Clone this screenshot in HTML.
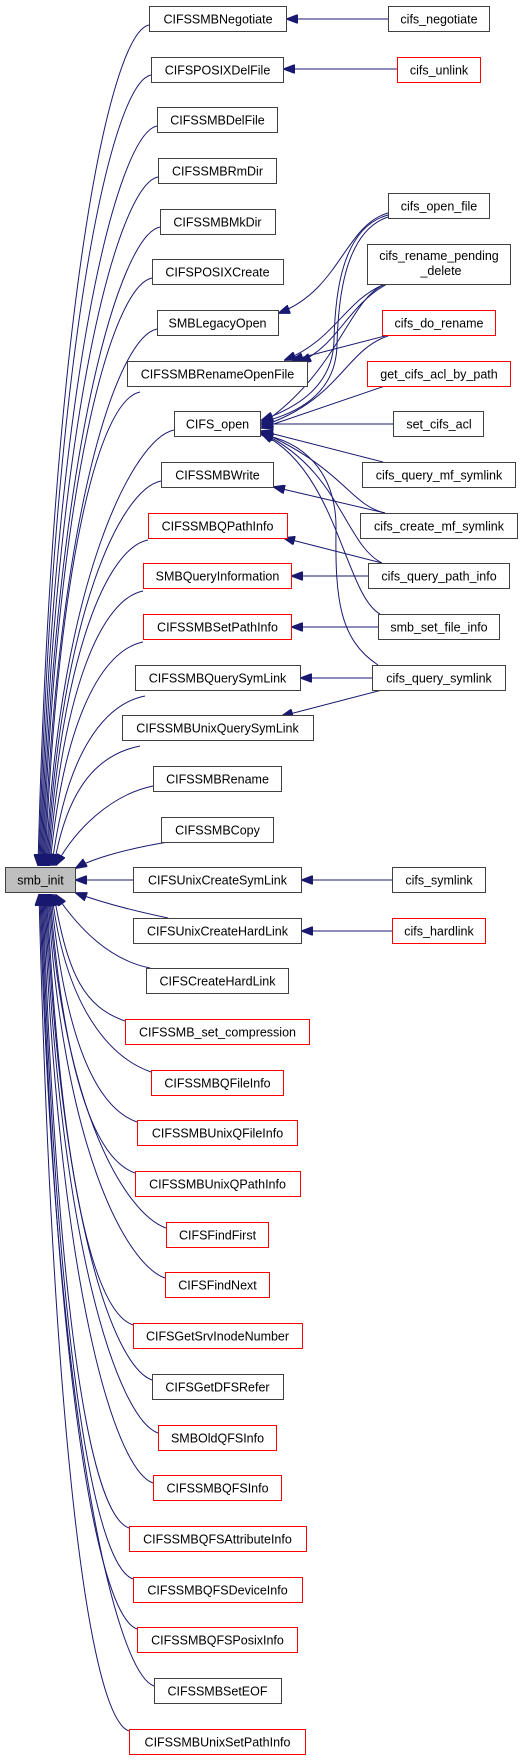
<!DOCTYPE html>
<html><head><meta charset="utf-8"><style>
html,body{margin:0;padding:0;background:#fff;}
svg{display:block;}
text{font-family:"Liberation Sans",sans-serif;font-size:12.5px;fill:#000;}
</style></head><body>
<svg id="g" width="532" height="1760" viewBox="0 0 532 1760" xmlns="http://www.w3.org/2000/svg">
<defs>
<marker id="a" markerWidth="12" markerHeight="9" refX="11" refY="4.5" orient="auto" markerUnits="userSpaceOnUse">
<path d="M0,0 L12,4.5 L0,9 z" fill="#191970" stroke="#191970"/>
</marker>
</defs>
<g id="edges" fill="none" stroke="#191970" stroke-width="1"></g>
<g id="nodes" stroke-width="1">
<rect x="5.5" y="867.5" width="70" height="25" fill="#bfbfbf" stroke="#404040"/><text x="40.5" y="884.5" text-anchor="middle">smb_init</text>

<rect x="149.5" y="6.5" width="137" height="25" fill="#fff" stroke="#404040"/><text x="218" y="23.5" text-anchor="middle">CIFSSMBNegotiate</text>
<rect x="151.5" y="57.5" width="132" height="25" fill="#fff" stroke="#404040"/><text x="217.5" y="74.5" text-anchor="middle">CIFSPOSIXDelFile</text>
<rect x="157.5" y="107.5" width="120" height="25" fill="#fff" stroke="#404040"/><text x="217.5" y="124.5" text-anchor="middle">CIFSSMBDelFile</text>
<rect x="158.5" y="158.5" width="118" height="25" fill="#fff" stroke="#404040"/><text x="217.5" y="175.5" text-anchor="middle">CIFSSMBRmDir</text>
<rect x="160.5" y="209.5" width="115" height="25" fill="#fff" stroke="#404040"/><text x="217.5" y="226.5" text-anchor="middle">CIFSSMBMkDir</text>
<rect x="152.5" y="259.5" width="131" height="25" fill="#fff" stroke="#404040"/><text x="217.5" y="276.5" text-anchor="middle">CIFSPOSIXCreate</text>
<rect x="157.5" y="310.5" width="121" height="25" fill="#fff" stroke="#404040"/><text x="217.5" y="327.5" text-anchor="middle">SMBLegacyOpen</text>
<rect x="127.5" y="361.5" width="180" height="25" fill="#fff" stroke="#404040"/><text x="217.5" y="378.5" text-anchor="middle">CIFSSMBRenameOpenFile</text>
<rect x="174.5" y="411.5" width="86" height="25" fill="#fff" stroke="#404040"/><text x="217.5" y="428.5" text-anchor="middle">CIFS_open</text>
<rect x="161.5" y="462.5" width="112" height="25" fill="#fff" stroke="#404040"/><text x="217.5" y="479.5" text-anchor="middle">CIFSSMBWrite</text>
<rect x="148.5" y="513.5" width="139" height="25" fill="#fff" stroke="#ff0000"/><text x="217.5" y="530.5" text-anchor="middle">CIFSSMBQPathInfo</text>
<rect x="143.5" y="563.5" width="148" height="25" fill="#fff" stroke="#ff0000"/><text x="217.5" y="580.5" text-anchor="middle">SMBQueryInformation</text>
<rect x="143.5" y="614.5" width="148" height="25" fill="#fff" stroke="#ff0000"/><text x="217.5" y="631.5" text-anchor="middle">CIFSSMBSetPathInfo</text>
<rect x="135.5" y="665.5" width="165" height="25" fill="#fff" stroke="#404040"/><text x="217.5" y="682.5" text-anchor="middle">CIFSSMBQuerySymLink</text>
<rect x="122.5" y="715.5" width="191" height="25" fill="#fff" stroke="#404040"/><text x="217.5" y="732.5" text-anchor="middle">CIFSSMBUnixQuerySymLink</text>
<rect x="153.5" y="766.5" width="128" height="25" fill="#fff" stroke="#404040"/><text x="217.5" y="783.5" text-anchor="middle">CIFSSMBRename</text>
<rect x="161.5" y="817.5" width="112" height="25" fill="#fff" stroke="#404040"/><text x="217.5" y="834.5" text-anchor="middle">CIFSSMBCopy</text>
<rect x="133.5" y="867.5" width="168" height="25" fill="#fff" stroke="#404040"/><text x="217.5" y="884.5" text-anchor="middle">CIFSUnixCreateSymLink</text>
<rect x="133.5" y="918.5" width="168" height="25" fill="#fff" stroke="#404040"/><text x="217.5" y="935.5" text-anchor="middle">CIFSUnixCreateHardLink</text>
<rect x="146.5" y="968.5" width="142" height="25" fill="#fff" stroke="#404040"/><text x="217.5" y="985.5" text-anchor="middle">CIFSCreateHardLink</text>
<rect x="125.5" y="1019.5" width="184" height="25" fill="#fff" stroke="#ff0000"/><text x="217.5" y="1036.5" text-anchor="middle">CIFSSMB_set_compression</text>
<rect x="151.5" y="1070.5" width="132" height="25" fill="#fff" stroke="#ff0000"/><text x="217.5" y="1087.5" text-anchor="middle">CIFSSMBQFileInfo</text>
<rect x="137.5" y="1120.5" width="160" height="25" fill="#fff" stroke="#ff0000"/><text x="217.5" y="1137.5" text-anchor="middle">CIFSSMBUnixQFileInfo</text>
<rect x="135.5" y="1171.5" width="165" height="25" fill="#fff" stroke="#ff0000"/><text x="217.5" y="1188.5" text-anchor="middle">CIFSSMBUnixQPathInfo</text>
<rect x="166.5" y="1222.5" width="102" height="25" fill="#fff" stroke="#ff0000"/><text x="217.5" y="1239.5" text-anchor="middle">CIFSFindFirst</text>
<rect x="165.5" y="1272.5" width="104" height="25" fill="#fff" stroke="#ff0000"/><text x="217.5" y="1289.5" text-anchor="middle">CIFSFindNext</text>
<rect x="133.5" y="1323.5" width="169" height="25" fill="#fff" stroke="#ff0000"/><text x="217.5" y="1340.5" text-anchor="middle">CIFSGetSrvInodeNumber</text>
<rect x="152.5" y="1374.5" width="131" height="25" fill="#fff" stroke="#404040"/><text x="217.5" y="1391.5" text-anchor="middle">CIFSGetDFSRefer</text>
<rect x="158.5" y="1425.5" width="118" height="25" fill="#fff" stroke="#ff0000"/><text x="217.5" y="1442.5" text-anchor="middle">SMBOldQFSInfo</text>
<rect x="153.5" y="1475.5" width="128" height="25" fill="#fff" stroke="#ff0000"/><text x="217.5" y="1492.5" text-anchor="middle">CIFSSMBQFSInfo</text>
<rect x="129.5" y="1526.5" width="177" height="25" fill="#fff" stroke="#ff0000"/><text x="217.5" y="1543.5" text-anchor="middle">CIFSSMBQFSAttributeInfo</text>
<rect x="133.5" y="1577.5" width="169" height="25" fill="#fff" stroke="#ff0000"/><text x="217.5" y="1594.5" text-anchor="middle">CIFSSMBQFSDeviceInfo</text>
<rect x="137.5" y="1627.5" width="160" height="25" fill="#fff" stroke="#ff0000"/><text x="217.5" y="1644.5" text-anchor="middle">CIFSSMBQFSPosixInfo</text>
<rect x="154.5" y="1678.5" width="127" height="25" fill="#fff" stroke="#404040"/><text x="217.5" y="1695.5" text-anchor="middle">CIFSSMBSetEOF</text>
<rect x="129.5" y="1729.5" width="176" height="25" fill="#fff" stroke="#ff0000"/><text x="217.5" y="1746.5" text-anchor="middle">CIFSSMBUnixSetPathInfo</text>

<rect x="388.5" y="6.5" width="101" height="25" fill="#fff" stroke="#404040"/><text x="439" y="23.5" text-anchor="middle">cifs_negotiate</text>
<rect x="397.5" y="57.5" width="83" height="25" fill="#fff" stroke="#ff0000"/><text x="439" y="74.5" text-anchor="middle">cifs_unlink</text>
<rect x="388.5" y="193.5" width="101" height="25" fill="#fff" stroke="#404040"/><text x="439" y="210.5" text-anchor="middle">cifs_open_file</text>
<rect x="367.5" y="244.5" width="143" height="40" fill="#fff" stroke="#404040"/><text x="439" y="260" text-anchor="middle">cifs_rename_pending</text><text x="441" y="275" text-anchor="middle">_delete</text>
<rect x="382.5" y="310.5" width="113" height="25" fill="#fff" stroke="#ff0000"/><text x="439" y="327.5" text-anchor="middle">cifs_do_rename</text>
<rect x="367.5" y="361.5" width="143" height="25" fill="#fff" stroke="#ff0000"/><text x="439" y="378.5" text-anchor="middle">get_cifs_acl_by_path</text>
<rect x="393.5" y="411.5" width="90" height="25" fill="#fff" stroke="#404040"/><text x="439" y="428.5" text-anchor="middle">set_cifs_acl</text>
<rect x="362.5" y="462.5" width="153" height="25" fill="#fff" stroke="#404040"/><text x="439" y="479.5" text-anchor="middle">cifs_query_mf_symlink</text>
<rect x="360.5" y="513.5" width="157" height="25" fill="#fff" stroke="#404040"/><text x="439" y="530.5" text-anchor="middle">cifs_create_mf_symlink</text>
<rect x="368.5" y="563.5" width="141" height="25" fill="#fff" stroke="#404040"/><text x="439" y="580.5" text-anchor="middle">cifs_query_path_info</text>
<rect x="378.5" y="614.5" width="121" height="25" fill="#fff" stroke="#404040"/><text x="439" y="631.5" text-anchor="middle">smb_set_file_info</text>
<rect x="372.5" y="665.5" width="133" height="25" fill="#fff" stroke="#404040"/><text x="439" y="682.5" text-anchor="middle">cifs_query_symlink</text>
<rect x="392.5" y="867.5" width="93" height="25" fill="#fff" stroke="#404040"/><text x="439" y="884.5" text-anchor="middle">cifs_symlink</text>
<rect x="392.5" y="918.5" width="93" height="25" fill="#fff" stroke="#ff0000"/><text x="439" y="935.5" text-anchor="middle">cifs_hardlink</text>
</g>
</svg>
<script>
(function(){
var E=document.getElementById('edges');
function p(d){var e=document.createElementNS('http://www.w3.org/2000/svg','path');e.setAttribute('d',d);e.setAttribute('marker-end','url(#a)');E.appendChild(e);}
var top=[[149,19,38],[151,69,39],[157,120,40],[158,171,41],[160,221,42],[152,272,43],[157,323,44],[140,386,45],[174,424,46],[161,475,47],[148,534,48],[143,585,49],[143,636,50],[145,690,52],[140,740,54]];
top.forEach(function(t){var x=t[0],y=t[1],ex=t[2];
 p('M'+x+','+(y+6)+' C'+(x-40)+','+(y+14)+' '+(ex+14)+','+(y+(866-y)*0.35)+' '+ex+',865');});
p('M153,786 C110,795 75,830 56,865');
p('M168,842 C120,850 90,860 76,868');
p('M133,880 L76,880');
p('M168,918 C120,908 95,900 76,893');
p('M150,968 C110,960 80,930 56,895');
var bot=[[125,1021,54],[151,1072,52],[137,1122,51],[135,1173,50],[166,1228,49],[165,1278,48],[133,1325,47],[152,1380,46],[158,1433,45],[153,1483,44],[129,1528,43],[133,1579,42],[137,1629,41],[154,1686,40],[129,1731,39]];
bot.forEach(function(t){var x=t[0],y=t[1],ex=t[2];
 p('M'+x+','+y+' C'+(x-40)+','+(y-14)+' '+(ex+14)+','+(y-(y-894)*0.35)+' '+ex+',895');});
p('M388,19 L287,19');
p('M397,69 L284,69');
p('M388,213 C345,225 340,290 279,313');
p('M388,215 C340,228 335,300 334,340 C333,390 290,410 262,420');
p('M388,217 C343,232 338,305 337,345 C336,395 295,414 262,422');
p('M385,284 C345,300 335,340 285,360');
p('M387,284 C348,305 338,345 300,362');
p('M385,284 C348,300 340,370 262,424');
p('M385,336 L292,360');
p('M388,336 C345,350 340,400 262,426');
p('M385,386 L262,428');
p('M393,424 L262,424');
p('M383,462 L262,431');
p('M385,513 C350,505 345,470 262,432');
p('M385,513 L274,487');
p('M382,563 C345,545 340,470 262,433');
p('M382,563 L284,538');
p('M368,576 L292,576');
p('M380,614 C345,595 337,470 262,434');
p('M378,627 L292,627');
p('M378,665 C340,640 335,600 336,530 C337,470 300,440 262,435');
p('M372,678 L301,678');
p('M382,690 L282,716');
p('M392,880 L302,880');
p('M392,931 L302,931');
})();
</script>
</body></html>
